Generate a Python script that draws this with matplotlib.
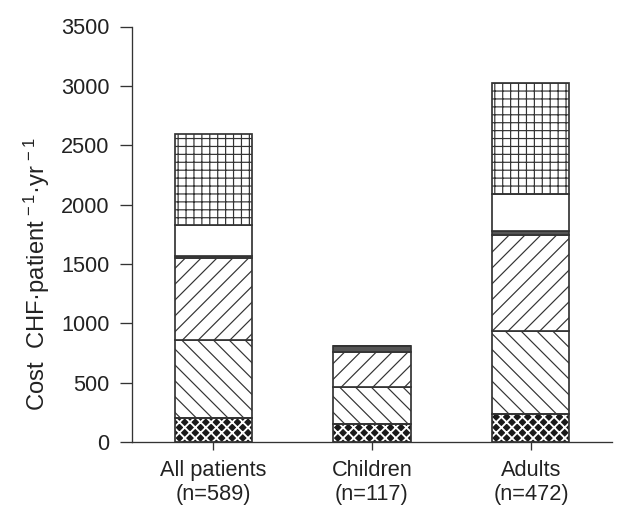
import matplotlib
matplotlib.use("Agg")
import matplotlib.pyplot as plt

plt.rcParams['font.family'] = ['Liberation Sans', 'DejaVu Sans']
plt.rcParams['mathtext.fontset'] = 'custom'
plt.rcParams['mathtext.rm'] = 'Liberation Sans'
plt.rcParams['mathtext.it'] = 'Liberation Sans'

categories = ["All patients\n(n=589)", "Children\n(n=117)", "Adults\n(n=472)"]
seg_weave = [199, 151, 240]
seg_back = [657, 313, 694]
seg_slash = [696, 291, 806]
seg_band = [18, 50, 35]
seg_white = [256, 0, 316]
seg_grid = [769, 0, 929]
yticks = [0, 500, 1000, 1500, 2000, 2500, 3000, 3500]

DPI = 95
FS = 16.5
fig = plt.figure(figsize=(621 / DPI, 515 / DPI), dpi=DPI)
ax = fig.add_axes([132 / 621, 1 - 442 / 515, (612 - 132) / 621, (442 - 26.5) / 515])

x = list(range(len(categories)))
w = 0.485
edge = '#333333'

# weave: black with white hatch
plt.rcParams['hatch.linewidth'] = 1.4
ax.bar(x, seg_weave, w, bottom=[0, 0, 0], facecolor='#1a1a1a', edgecolor='white',
       hatch='xxx', linewidth=0, zorder=2)
ax.bar(x, seg_weave, w, bottom=[0, 0, 0], fill=False, edgecolor=edge, linewidth=1.3, zorder=3)
bottom = list(seg_weave)
plt.rcParams['hatch.linewidth'] = 0.9
for vals, kw in [
    (seg_back, dict(facecolor='white', hatch='\\\\')),
    (seg_slash, dict(facecolor='white', hatch='//')),
    (seg_band, dict(facecolor='#555555')),
    (seg_white, dict(facecolor='white')),
    (seg_grid, dict(facecolor='white', hatch='++')),
]:
    ax.bar(x, vals, w, bottom=bottom, edgecolor=edge, linewidth=1.3, zorder=2, **kw)
    bottom = [b + v for b, v in zip(bottom, vals)]

ax.set_xlim(-0.51, 2.51)
ax.set_ylim(0, 3500)
ax.set_yticks(yticks)
ax.set_xticks(x)
ax.set_xticklabels(categories, fontsize=FS, linespacing=1.15, color='#222222')
ax.tick_params(axis='y', labelsize=FS, length=9, width=1.0, pad=8, color='#333333', labelcolor='#222222')
ax.tick_params(axis='x', length=6, width=1.0, pad=8, color='#333333')
for s in ['top', 'right']:
    ax.spines[s].set_visible(False)
for s in ['left', 'bottom']:
    ax.spines[s].set_linewidth(1.0)
    ax.spines[s].set_color('#333333')
ax.set_ylabel("Cost  CHF\u00b7patient$^{\\,-1}$\u00b7yr$^{\\,-1}$", fontsize=18, color='#222222')
ax.yaxis.set_label_coords(-0.166, 0.405)

fig.savefig("out.png", dpi=DPI)
